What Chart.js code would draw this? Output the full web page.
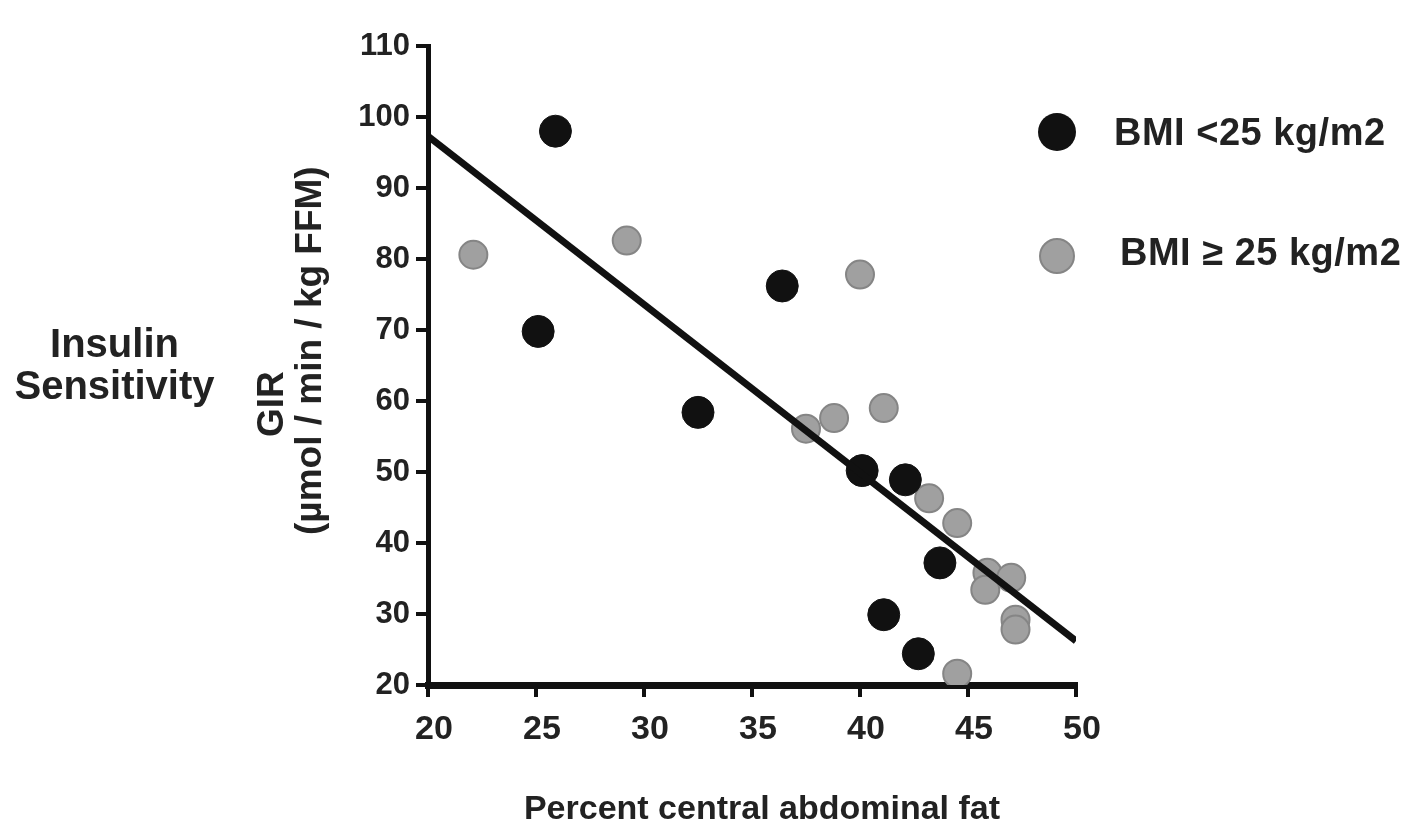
<!DOCTYPE html>
<html>
<head>
<meta charset="utf-8">
<script src="https://cdn.jsdelivr.net/npm/chart.js@4/dist/chart.umd.min.js"></script>
<style>
  html, body { margin: 0; padding: 0; background: #fff; }
  #wrap { position: relative; width: 1421px; height: 832px; overflow: hidden; }
  #chart { position: absolute; left: 0; top: 0; }
  .txt { position: absolute; font-family: 'Liberation Sans', Arial, sans-serif; font-weight: bold; color: #222; white-space: nowrap; }
  .side { left: 12px; width: 205px; text-align: center; font-size: 40px; line-height: 42px; }
  .rot { transform-origin: 0 0; transform: rotate(-90deg); font-size: 37px; }
  .dot { position: absolute; border-radius: 50%; }
  .leg { font-size: 38px; letter-spacing: 0.5px; }
</style>
</head>
<body>
<div id="wrap">
  <canvas id="chart" width="1421" height="832"></canvas>
  <div class="txt side" style="top:322px">Insulin<br>Sensitivity</div>
  <div class="txt rot" style="left:250px; top:437px">GIR</div>
  <div class="txt rot" style="left:288px; top:535px">(µmol / min / kg FFM)</div>
  <div class="dot" style="left:1038px; top:113px; width:38px; height:38px; background:#111"></div>
  <div class="txt leg" style="left:1114px; top:111px">BMI &lt;25 kg/m2</div>
  <div class="dot" style="left:1039px; top:238px; width:32px; height:32px; background:#a0a0a0; border:2px solid #858585"></div>
  <div class="txt leg" style="left:1120px; top:231px">BMI ≥ 25 kg/m2</div>
</div>
<script>
// BMI < 25 kg/m2 (black)
const leanX = [25.9, 25.1, 32.5, 36.4, 40.1, 42.1, 43.7, 41.1, 42.7];
const leanY = [98.0, 69.8, 58.4, 76.2, 50.2, 48.9, 37.2, 29.9, 24.4];

// BMI >= 25 kg/m2 (grey)
const heavyX = [22.1, 29.2, 40.0, 37.5, 38.8, 41.1, 43.2, 44.5, 45.9, 45.8, 47.0, 47.2, 47.2, 44.5];
const heavyY = [80.6, 82.6, 77.8, 56.1, 57.6, 59.0, 46.3, 42.8, 35.8, 33.4, 35.1, 29.2, 27.8, 21.6];

// regression line end points
const fitX = [20, 50];
const fitY = [97.3, 26.2];

const xTicks = [20, 25, 30, 35, 40, 45, 50];
const yTicks = [20, 30, 40, 50, 60, 70, 80, 90, 100, 110];

const pts = (xs, ys) => xs.map((x, i) => ({ x: x, y: ys[i] }));
const fontFam = "'Liberation Sans', Arial, sans-serif";

new Chart(document.getElementById('chart'), {
  type: 'scatter',
  data: {
    datasets: [
      {
        type: 'line',
        data: pts(fitX, fitY),
        borderColor: '#111',
        borderWidth: 7,
        pointRadius: 0,
        order: 0
      },
      {
        data: pts(leanX, leanY),
        backgroundColor: '#111',
        borderColor: '#111',
        borderWidth: 1,
        pointRadius: 16,
        order: 1
      },
      {
        data: pts(heavyX, heavyY),
        backgroundColor: '#a0a0a0',
        borderColor: '#858585',
        borderWidth: 2,
        pointRadius: 14,
        order: 2
      }
    ]
  },
  options: {
    responsive: false,
    animation: false,
    layout: { padding: { top: 46, right: 345, left: 0, bottom: 0 } },
    plugins: { legend: { display: false }, tooltip: { enabled: false } },
    scales: {
      x: {
        type: 'linear',
        min: 20,
        max: 50,
        afterFit: s => { s.height = 147; },
        afterBuildTicks: s => { s.ticks = xTicks.map(v => ({ value: v })); },
        border: { display: true, color: '#111', width: 7 },
        grid: { drawOnChartArea: false, drawTicks: true, tickLength: 12, color: '#111', lineWidth: 4 },
        ticks: { color: '#222', padding: 12, labelOffset: 6, font: { family: fontFam, size: 34, weight: 'bold' } }
      },
      y: {
        min: 20,
        max: 110,
        afterFit: s => { s.width = 428; },
        afterBuildTicks: s => { s.ticks = yTicks.map(v => ({ value: v })); },
        border: { display: true, color: '#111', width: 5 },
        grid: { drawOnChartArea: false, drawTicks: true, tickLength: 12, color: '#111', lineWidth: 4 },
        ticks: { color: '#222', padding: 6, font: { family: fontFam, size: 31, weight: 'bold' } }
      }
    }
  },
  plugins: [{
    id: 'xTitle',
    afterDraw(chart) {
      const ctx = chart.ctx;
      ctx.save();
      ctx.font = 'bold 34px ' + fontFam;
      ctx.fillStyle = '#222';
      ctx.textAlign = 'center';
      ctx.textBaseline = 'middle';
      ctx.fillText('Percent central abdominal fat', 762, 810);
      ctx.restore();
    }
  }]
});
</script>
</body>
</html>
